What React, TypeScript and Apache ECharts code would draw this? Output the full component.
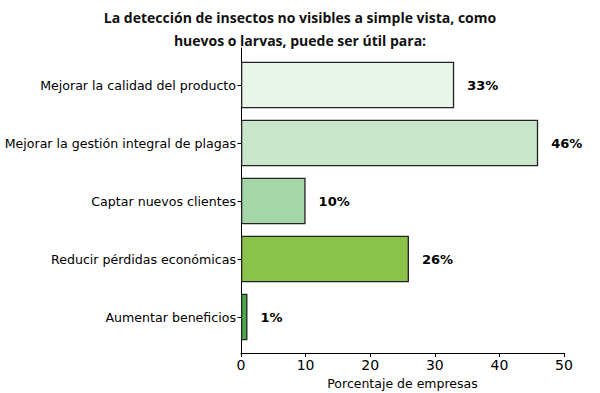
import React, { useEffect, useRef } from "react";
import * as echarts from "echarts";

const categories = [
  "Mejorar la calidad del producto",
  "Mejorar la gestión integral de plagas",
  "Captar nuevos clientes",
  "Reducir pérdidas económicas",
  "Aumentar beneficios",
];
const values = [33, 46, 10, 26, 1];
const barColors = ["#e8f5e9", "#c8e6c9", "#a5d6a7", "#8bc34a", "#4ca64c"];
const titleText = "La detección de insectos no visibles a simple vista, como\nhuevos o larvas, puede ser útil para:";
const xAxisName = "Porcentaje de empresas";

export default function App() {
  const ref = useRef<HTMLDivElement>(null);
  useEffect(() => {
    document.body.style.margin = "0";
    if (!ref.current) return;
    const chart = echarts.init(ref.current, undefined, { renderer: "svg" });
    const font = "DejaVu Sans";
    chart.setOption({
      animation: false,
      backgroundColor: "#ffffff",
      title: {
        text: titleText,
        left: "center",
        top: 1,
        textStyle: {
          fontFamily: "Open Sans",
          fontWeight: "bold",
          fontSize: 14,
          color: "#111",
          lineHeight: 23,
        },
      },
      grid: [
        { left: 241, right: 36, top: 48, bottom: 40, outerBoundsMode: "none", containLabel: false },
        { left: 241, right: 36, top: 56, bottom: 47, outerBoundsMode: "none", containLabel: false },
      ],
      xAxis: [
        {
          gridIndex: 0,
          type: "value",
          min: 0,
          max: 50,
          interval: 10,
          axisLine: { show: true, lineStyle: { color: "#000", width: 1 } },
          axisTick: { show: true, length: 4, lineStyle: { color: "#000" } },
          axisLabel: { fontFamily: font, fontSize: 14, color: "#000", margin: 5 },
          splitLine: { show: false },
          name: xAxisName,
          nameLocation: "middle",
          nameGap: 23,
          nameTextStyle: { fontFamily: font, fontSize: 12.5, color: "#000" },
        },
        {
          gridIndex: 1,
          type: "value",
          min: 0,
          max: 50,
          show: false,
        },
      ],
      yAxis: [
        {
          gridIndex: 0,
          type: "value",
          min: 0,
          max: 1,
          axisLine: { show: true, lineStyle: { color: "#000", width: 1 } },
          axisTick: { show: false },
          axisLabel: { show: false },
          splitLine: { show: false },
        },
        {
          gridIndex: 1,
          type: "category",
          inverse: true,
          data: categories,
          axisLine: { show: false },
          axisTick: { show: true, length: 3.5, alignWithLabel: true, lineStyle: { color: "#000" } },
          axisLabel: { fontFamily: font, fontSize: 12.6, color: "#000", margin: 5 },
          splitLine: { show: false },
        },
      ],
      series: [
        {
          type: "bar",
          xAxisIndex: 1,
          yAxisIndex: 1,
          barWidth: "80%",
          data: values.map((v, i) => ({
            value: v,
            itemStyle: { color: barColors[i], borderColor: "#222", borderWidth: 1.3 },
          })),
          label: {
            show: true,
            position: "right",
            distance: 13,
            formatter: "{c}%",
            fontFamily: font,
            fontWeight: "bold",
            fontSize: 13,
            color: "#000",
          },
        },
      ],
    });
    return () => chart.dispose();
  }, []);
  return <div ref={ref} style={{ width: 600, height: 393 }} />;
}
